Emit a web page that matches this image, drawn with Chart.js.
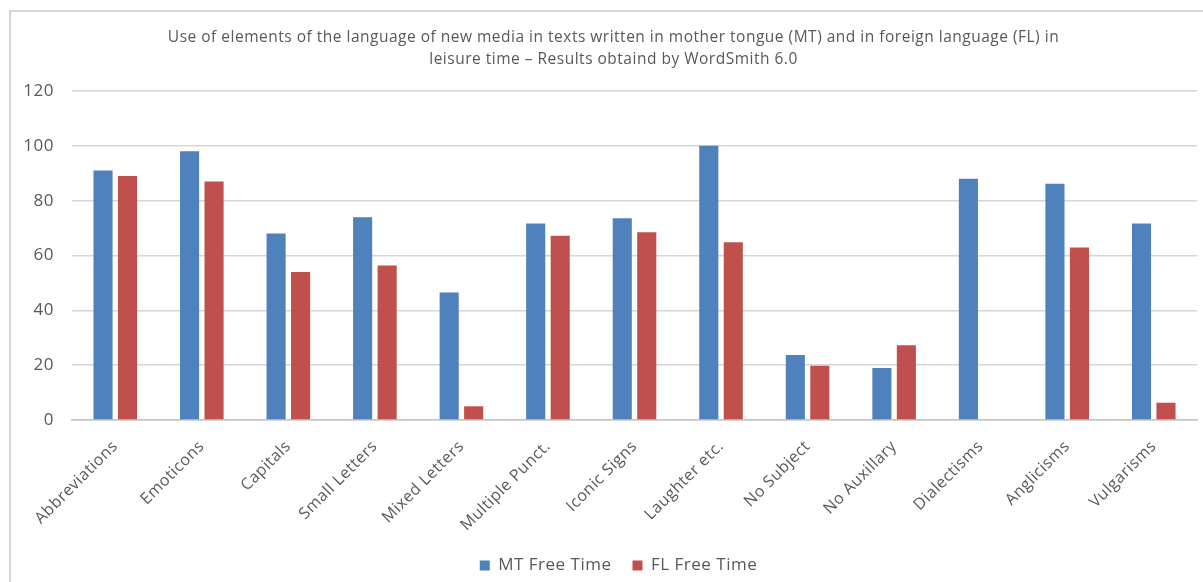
<!DOCTYPE html>
<html>
<head>
<meta charset="utf-8">
<script src="https://cdn.jsdelivr.net/npm/chart.js@4.4.1/dist/chart.umd.min.js"></script>
<style>
  html, body { margin: 0; padding: 0; background: #ffffff; }
  #wrap { position: relative; width: 1203px; height: 582px; overflow: hidden; }
  #frame { position: absolute; left: 9px; top: 10px; width: 1300px; height: 700px;
           border: 2px solid #d6d6d6; box-sizing: border-box; }
  canvas { position: absolute; left: 0; top: 0; }
</style>
</head>
<body>
<div id="wrap">
  <div id="frame"></div>
  <canvas id="c" width="1203" height="582"></canvas>
</div>
<script>
// Categories of new-media language elements
const categories = ['Abbreviations', 'Emoticons', 'Capitals', 'Small Letters', 'Mixed Letters',
  'Multiple Punct.', 'Iconic Signs', 'Laughter etc.', 'No Subject', 'No Auxillary',
  'Dialectisms', 'Anglicisms', 'Vulgarisms'];

// Mother tongue, free time
const mtFreeTime = [91, 98, 68, 74, 46.5, 71.7, 73.6, 100, 23.7, 19, 88, 86.2, 71.7];
// Foreign language, free time
const flFreeTime = [89, 87, 54, 56.4, 5, 67.2, 68.5, 64.8, 19.8, 27.3, 0, 62.9, 6.3];

// Value axis ticks
const yTicks = [0, 20, 40, 60, 80, 100, 120];

const titleLines = [
  'Use of elements of the language of new media in texts written in mother tongue (MT) and in foreign language (FL) in',
  'leisure time \u2013 Results obtaind by WordSmith 6.0'
];

const FONT = '"Open Sans", Lato, sans-serif';
const TEXT = '#595959';

// Slightly open letter spacing for all chart text; the frame is centred a bit right of the canvas
const textSpacing = {
  id: 'textSpacing',
  beforeUpdate(chart) { chart.ctx.letterSpacing = '0.5px'; },
  beforeDraw(chart) { chart.ctx.letterSpacing = '0.5px'; },
  afterLayout(chart) {
    const t = chart.titleBlock, l = chart.legend;
    if (t) { t.left += 15; t.right += 15; }
    if (l) { l.left += 20; l.right += 20; l.top += 2; l.bottom += 2; }
  }
};

new Chart(document.getElementById('c'), {
  type: 'bar',
  data: {
    labels: categories,
    datasets: [
      { label: 'MT Free Time', data: mtFreeTime, backgroundColor: '#4f81bd' },
      { label: 'FL Free Time', data: flFreeTime, backgroundColor: '#c0504d' }
    ]
  },
  plugins: [textSpacing],
  options: {
    responsive: false,
    devicePixelRatio: 1,
    animation: false,
    datasets: { bar: { barPercentage: 0.78, categoryPercentage: 0.566 } },
    layout: { padding: { left: 0, right: 6, top: 27, bottom: 0 } },
    plugins: {
      title: {
        display: true,
        text: titleLines,
        color: TEXT,
        font: { family: FONT, size: 15.5, weight: 'normal', lineHeight: 1.42 },
        padding: { top: 0, bottom: 20 }
      },
      legend: {
        position: 'bottom',
        labels: {
          color: TEXT,
          boxWidth: 10,
          boxHeight: 10,
          padding: 21,
          font: { family: FONT, size: 17 }
        }
      },
      tooltip: { enabled: false }
    },
    scales: {
      x: {
        afterFit: (s) => { s.height = 114; },
        grid: { display: false },
        border: { color: '#c4c4c4', width: 1.5 },
        ticks: {
          color: TEXT,
          font: { family: FONT, size: 16 },
          maxRotation: 45,
          minRotation: 45,
          autoSkip: false,
          padding: 9
        }
      },
      y: {
        min: 0,
        max: 120,
        afterBuildTicks: (s) => { s.ticks = yTicks.map(v => ({ value: v })); },
        afterFit: (s) => { s.width = 72; },
        grid: { color: '#d6d6d6', lineWidth: 1.5, drawTicks: false },
        border: { display: false },
        ticks: {
          color: TEXT,
          font: { family: FONT, size: 17 },
          padding: 18
        }
      }
    }
  }
});
</script>
</body>
</html>
